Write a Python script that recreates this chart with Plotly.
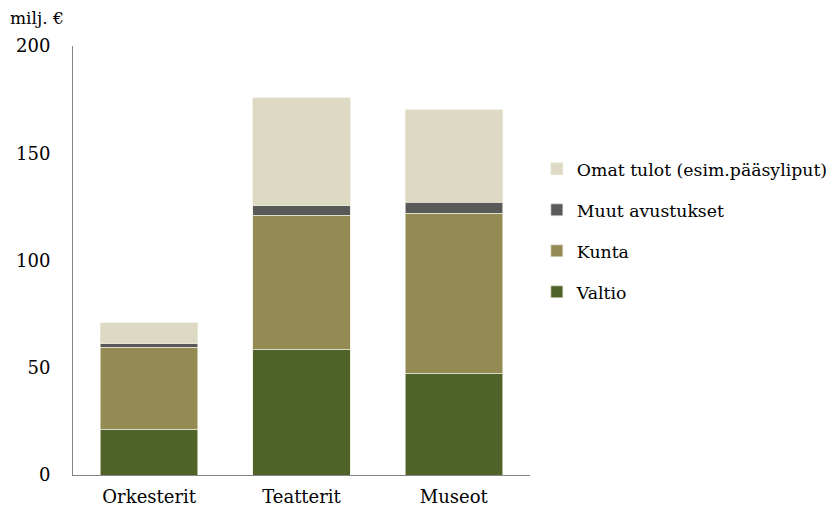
import plotly.graph_objects as go

categories = ["Orkesterit", "Teatterit", "Museot"]
valtio = [21.3, 58.6, 47.4]
kunta = [38.2, 62.6, 74.7]
muut = [1.6, 4.3, 5.0]
omat = [9.9, 50.4, 43.1]

series = [
    ("Valtio", valtio, "#4F6228", 4),
    ("Kunta", kunta, "#948A54", 3),
    ("Muut avustukset", muut, "#595959", 2),
    ("Omat tulot (esim.pääsyliput)", omat, "#DDD9C3", 1),
]

FONT = "DejaVu Serif"
FS = 18

fig = go.Figure()
for name, vals, col, rank in series:
    fig.add_trace(go.Bar(
        x=categories, y=vals, name=name, legendgroup=name, legendrank=rank,
        marker=dict(color=col, line=dict(color="rgba(235,235,220,0.9)", width=0.7)),
    ))

fig.update_layout(
    width=840, height=512,
    barmode="stack", bargap=0.36,
    plot_bgcolor="white", paper_bgcolor="white",
    margin=dict(l=65, r=318, t=38, b=45, autoexpand=False),
    font=dict(family=FONT, size=FS, color="black"),
    showlegend=True,
    legend=dict(
        x=1.015, y=0.755, xanchor="left", yanchor="top",
        traceorder="grouped", tracegroupgap=15.5,
        font=dict(family=FONT, size=17.3, color="black"),
        itemwidth=30,
    ),
    xaxis=dict(showline=True, linecolor="#868686", linewidth=1, ticks="",
               ticklabelstandoff=5,
               tickfont=dict(family=FONT, size=FS), showgrid=False),
    yaxis=dict(range=[0, 200], dtick=50, showline=True, linecolor="#868686",
               linewidth=1, ticks="", showgrid=False, zeroline=False,
               ticklabelstandoff=18, tickfont=dict(family=FONT, size=FS)),
    annotations=[dict(text="milj. €", xref="paper", yref="paper", x=-65 / 457, y=1.0,
                      xanchor="left", yanchor="bottom", yshift=16, showarrow=False,
                      font=dict(family=FONT, size=17))],
)

fig.write_html("out.html")
